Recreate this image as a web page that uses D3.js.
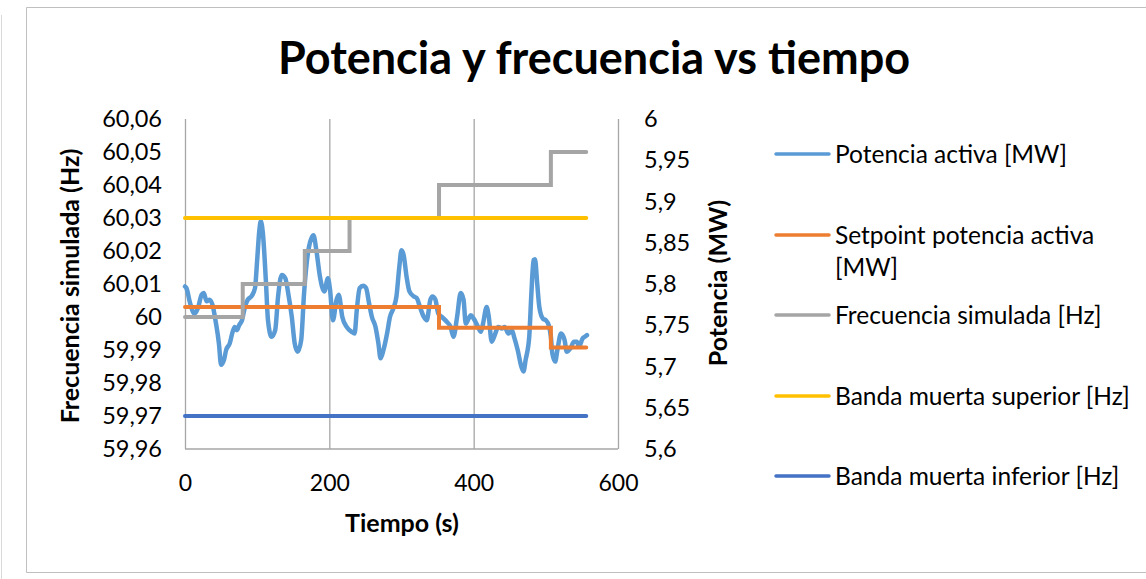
<!DOCTYPE html>
<html>
<head>
<meta charset="utf-8">
<script src="https://cdn.jsdelivr.net/npm/d3@7"></script>
<style>
  body { margin: 0; background: #fff; }
  text { font-family: Lato, "Open Sans", sans-serif; fill: #000; }
</style>
</head>
<body>
<div id="chart"></div>
<script>
// tiempo (s) y potencia activa (MW)
const tiempo = [0, 2, 7, 13, 18, 23, 26, 30, 34, 38, 43, 47, 50, 54, 57, 62, 66, 69, 72, 75, 79, 83, 87, 92, 97,
  100, 103, 105, 108, 112, 115, 120, 125, 129, 134, 139, 143, 148, 152, 156, 161, 165, 171, 178, 182, 187, 193,
  198, 201, 205, 210, 213, 218, 224, 231, 235, 238, 242, 247, 251, 255, 259, 264, 268, 271, 275, 280, 284, 289,
  293, 297, 300, 303, 307, 311, 317, 321, 326, 331, 335, 340, 343, 347, 351, 356, 363, 368, 372, 377, 382, 386,
  389, 393, 396, 400, 405, 410, 413, 418, 421, 425, 430, 434, 439, 443, 448, 453, 456, 461, 466, 469, 472, 477,
  480, 483, 485, 488, 491, 496, 500, 504, 507, 509, 513, 516, 521, 526, 529, 534, 539, 543, 546, 551, 554, 557];
const potenciaActiva = [5.797, 5.795, 5.777, 5.764, 5.771, 5.787, 5.789, 5.779, 5.781, 5.775, 5.752, 5.728, 5.702,
  5.708, 5.720, 5.728, 5.742, 5.748, 5.744, 5.750, 5.756, 5.772, 5.781, 5.785, 5.795, 5.829, 5.865, 5.876, 5.861,
  5.805, 5.756, 5.736, 5.744, 5.785, 5.811, 5.807, 5.789, 5.760, 5.728, 5.718, 5.732, 5.789, 5.841, 5.859, 5.841,
  5.809, 5.791, 5.807, 5.793, 5.756, 5.781, 5.787, 5.760, 5.748, 5.742, 5.740, 5.768, 5.795, 5.798, 5.795, 5.777,
  5.760, 5.748, 5.728, 5.710, 5.720, 5.740, 5.760, 5.771, 5.785, 5.821, 5.841, 5.835, 5.809, 5.791, 5.785, 5.783,
  5.771, 5.760, 5.756, 5.781, 5.785, 5.781, 5.764, 5.760, 5.754, 5.748, 5.736, 5.760, 5.789, 5.781, 5.752, 5.758,
  5.762, 5.758, 5.750, 5.742, 5.752, 5.772, 5.760, 5.730, 5.740, 5.748, 5.746, 5.748, 5.740, 5.744, 5.736, 5.720,
  5.700, 5.694, 5.708, 5.736, 5.789, 5.829, 5.830, 5.801, 5.772, 5.758, 5.756, 5.750, 5.736, 5.716, 5.706, 5.720,
  5.740, 5.732, 5.718, 5.722, 5.730, 5.730, 5.724, 5.734, 5.736, 5.738];

// setpoint (escalones)
const setpointTiempo = [0, 352, 507, 556];
const setpointValores = [5.772, 5.747, 5.723, 5.723];

// frecuencia simulada (escalones)
const frecTiempo = [0, 80, 166, 228, 352, 507, 556];
const frecValores = [60, 60.01, 60.02, 60.03, 60.04, 60.05, 60.05];

// bandas muertas
const bandaTiempo = [0, 556];
const bandaSuperior = 60.03;
const bandaInferior = 59.97;

const xTicks = [0, 200, 400, 600];
const yLeftTicks = [59.96, 59.97, 59.98, 59.99, 60, 60.01, 60.02, 60.03, 60.04, 60.05, 60.06];
const yRightTicks = [5.6, 5.65, 5.7, 5.75, 5.8, 5.85, 5.9, 5.95, 6];

const legendItems = [
  {name: ["Potencia activa [MW]"], color: "#5B9BD5"},
  {name: ["Setpoint potencia activa", "[MW]"], color: "#ED7D31"},
  {name: ["Frecuencia simulada [Hz]"], color: "#A5A5A5"},
  {name: ["Banda muerta superior [Hz]"], color: "#FFC000"},
  {name: ["Banda muerta inferior [Hz]"], color: "#4472C4"}
];

const W = 1146, H = 579;
const margin = {top: 119, right: 528, bottom: 130, left: 185};
const w = W - margin.left - margin.right;
const h = H - margin.top - margin.bottom;

const locale = d3.formatLocale({decimal: ",", thousands: ".", grouping: [3], currency: ["", ""]});
const fmt = locale.format(".2~f");

const xScale = d3.scaleLinear().domain([0, 600]).range([0, w]);
const yLeft = d3.scaleLinear().domain([59.96, 60.06]).range([h, 0]);
const yRight = d3.scaleLinear().domain([5.6, 6]).range([h, 0]);

const svg = d3.select("#chart").append("svg")
  .attr("width", W)
  .attr("height", H);

svg.append("rect").attr("width", W).attr("height", H).attr("fill", "#fff");

// marco
svg.append("path")
  .attr("d", `M1146,7.5H26.5V572.5H1146`)
  .attr("fill", "none")
  .attr("stroke", "#BFBFBF")
  .attr("stroke-width", 1);
svg.append("line")
  .attr("x1", 1.5).attr("x2", 1.5).attr("y1", 15).attr("y2", 579)
  .attr("stroke", "#D9D9D9");

svg.append("text")
  .attr("x", 594)
  .attr("y", 74)
  .attr("text-anchor", "middle")
  .style("font-size", "45px")
  .style("font-weight", "bold")
  .text("Potencia y frecuencia vs tiempo");

const g = svg.append("g").attr("transform", `translate(${margin.left},${margin.top})`);

// lineas de rejilla verticales
g.append("g")
  .attr("class", "grid")
  .call(d3.axisBottom(xScale).tickValues(xTicks).tickSize(h).tickFormat(""))
  .call(s => s.select(".domain").remove())
  .call(s => s.selectAll("line").attr("stroke", "#A6A6A6").attr("stroke-width", 1.3));

g.append("line")
  .attr("x1", 0).attr("x2", w).attr("y1", h).attr("y2", h)
  .attr("stroke", "#A6A6A6").attr("stroke-width", 1.3);

g.append("g")
  .attr("transform", `translate(0,${h})`)
  .call(d3.axisBottom(xScale).tickValues(xTicks).tickSize(0).tickPadding(26))
  .call(s => s.select(".domain").remove())
  .call(s => s.selectAll("text").style("font-size", "23px").attr("fill", "#000"));

g.append("g")
  .call(d3.axisLeft(yLeft).tickValues(yLeftTicks).tickSize(0).tickPadding(23).tickFormat(fmt))
  .call(s => s.select(".domain").remove())
  .call(s => s.selectAll("text").style("font-size", "23.5px").attr("fill", "#000"));

g.append("g")
  .attr("transform", `translate(${w},0)`)
  .call(d3.axisRight(yRight).tickValues(yRightTicks).tickSize(0).tickPadding(26).tickFormat(fmt))
  .call(s => s.select(".domain").remove())
  .call(s => s.selectAll("text").style("font-size", "23.5px").attr("fill", "#000"));

// titulos de ejes
svg.append("text")
  .attr("transform", `translate(79,286) rotate(-90)`)
  .attr("text-anchor", "middle")
  .style("font-size", "25px")
  .style("font-weight", "bold")
  .text("Frecuencia simulada (Hz)");

svg.append("text")
  .attr("transform", `translate(727,283) rotate(-90)`)
  .attr("text-anchor", "middle")
  .style("font-size", "25px")
  .style("font-weight", "bold")
  .text("Potencia (MW)");

svg.append("text")
  .attr("x", 402)
  .attr("y", 532)
  .attr("text-anchor", "middle")
  .style("font-size", "25px")
  .style("font-weight", "bold")
  .text("Tiempo (s)");

// series
const lineLeftStep = d3.line()
  .x(d => xScale(d[0]))
  .y(d => yLeft(d[1]))
  .curve(d3.curveStepAfter);

const lineRightStep = d3.line()
  .x(d => xScale(d[0]))
  .y(d => yRight(d[1]))
  .curve(d3.curveStepAfter);

const lineRight = d3.line()
  .x(d => xScale(d[0]))
  .y(d => yRight(d[1]))
  .curve(d3.curveMonotoneX);

const lineLeft = d3.line()
  .x(d => xScale(d[0]))
  .y(d => yLeft(d[1]));

const zip = (a, b) => a.map((v, i) => [v, b[i]]);

g.append("path")
  .attr("d", lineRight(zip(tiempo, potenciaActiva)))
  .attr("fill", "none")
  .attr("stroke", "#5B9BD5")
  .attr("stroke-width", 4.5)
  .attr("stroke-linejoin", "round")
  .attr("stroke-linecap", "round");

g.append("path")
  .attr("d", lineRightStep(zip(setpointTiempo, setpointValores)))
  .attr("fill", "none")
  .attr("stroke", "#ED7D31")
  .attr("stroke-width", 4)
  .attr("stroke-linecap", "round");

g.append("path")
  .attr("d", lineLeftStep(zip(frecTiempo, frecValores)))
  .attr("fill", "none")
  .attr("stroke", "#A5A5A5")
  .attr("stroke-width", 4)
  .attr("stroke-linecap", "round");

g.append("path")
  .attr("d", lineLeft(bandaTiempo.map(t => [t, bandaSuperior])))
  .attr("fill", "none")
  .attr("stroke", "#FFC000")
  .attr("stroke-width", 4)
  .attr("stroke-linecap", "round");

g.append("path")
  .attr("d", lineLeft(bandaTiempo.map(t => [t, bandaInferior])))
  .attr("fill", "none")
  .attr("stroke", "#4472C4")
  .attr("stroke-width", 4)
  .attr("stroke-linecap", "round");

// leyenda
const legendY = [154, 235, 315, 396, 476];
const legend = svg.append("g");
legendItems.forEach((item, i) => {
  legend.append("line")
    .attr("x1", 776).attr("x2", 829)
    .attr("y1", legendY[i]).attr("y2", legendY[i])
    .attr("stroke", item.color)
    .attr("stroke-width", 3.5)
    .attr("stroke-linecap", "round");
  item.name.forEach((t, j) => {
    legend.append("text")
      .attr("x", 835)
      .attr("y", legendY[i] + j * 32)
      .attr("dy", "0.35em")
      .style("font-size", "24.5px")
      .text(t);
  });
});
</script>
</body>
</html>
